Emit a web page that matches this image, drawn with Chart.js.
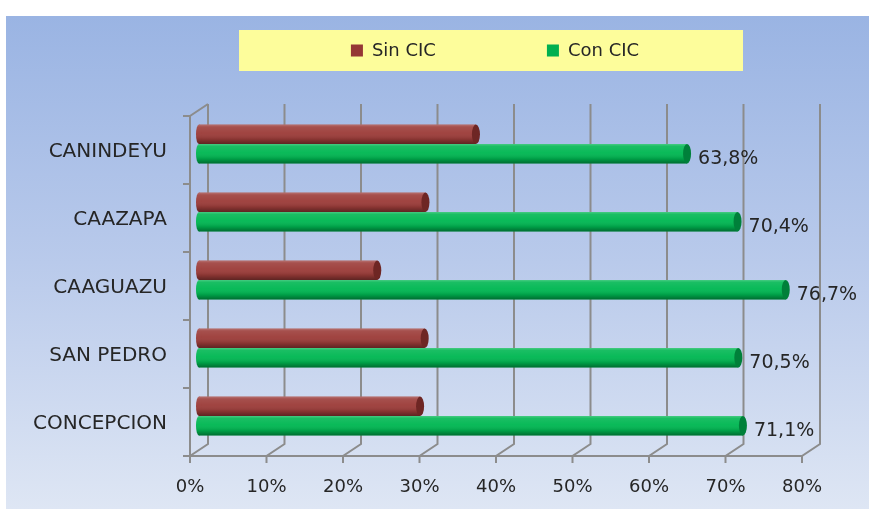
<!DOCTYPE html>
<html>
<head>
<meta charset="utf-8">
<script src="https://cdn.jsdelivr.net/npm/chart.js@4"></script>
<style>
  html, body { margin: 0; padding: 0; background: #fff; }
  #wrap { width: 869px; height: 509px; position: relative; }
</style>
</head>
<body>
<div id="wrap"><canvas id="chart"></canvas></div>
<script>
const departamentos = ['CANINDEYU', 'CAAZAPA', 'CAAGUAZU', 'SAN PEDRO', 'CONCEPCION'];
const sinCic = [36.2, 29.6, 23.3, 29.5, 28.9];
const conCic = [63.8, 70.4, 76.7, 70.5, 71.1];
const seriesNames = ['Sin CIC', 'Con CIC'];
const axisMax = 80;

const barColors = ['#9C3C39', '#00B752'];
const capColors = ['#6E2624', '#00803A'];
const legendColors = ['#953735', '#00B050'];
const FONT = 'DejaVu Sans';
const TEXT = '#262626';
// fake 3D depth of the walls
const DEPTH = 9, RISE = 6;

const backgroundPlugin = {
  id: 'bg',
  beforeDraw(chart) {
    const { ctx, width, height } = chart;
    ctx.save();
    ctx.fillStyle = '#fff';
    ctx.fillRect(0, 0, width, height);
    const g = ctx.createLinearGradient(0, 16, 0, height);
    g.addColorStop(0, '#9AB4E3');
    g.addColorStop(0.5, '#B9CAEB');
    g.addColorStop(1, '#DEE6F4');
    ctx.fillStyle = g;
    ctx.fillRect(6, 16, width - 6, height - 16);
    ctx.restore();
  }
};

const framePlugin = {
  id: 'frame',
  beforeDatasetsDraw(chart) {
    const { ctx, chartArea: a, scales: { x } } = chart;
    ctx.save();
    ctx.strokeStyle = '#8C8C8C';
    ctx.lineWidth = 2;
    x.ticks.forEach(t => {
      const px = x.getPixelForValue(t.value);
      ctx.beginPath();
      ctx.moveTo(px + DEPTH, a.top - RISE);
      ctx.lineTo(px + DEPTH, a.bottom - RISE);
      ctx.lineTo(px - DEPTH, a.bottom + RISE);
      ctx.lineTo(px - DEPTH, a.bottom + RISE + 7);
      ctx.stroke();
    });
    const x0 = x.getPixelForValue(0) - DEPTH;
    const x1 = x.getPixelForValue(axisMax) - DEPTH;
    ctx.beginPath();
    ctx.moveTo(x0, a.bottom + RISE);
    ctx.lineTo(x1, a.bottom + RISE);
    ctx.stroke();
    ctx.beginPath();
    ctx.moveTo(x0 + 2 * DEPTH, a.top - RISE);
    ctx.lineTo(x0, a.top + RISE);
    ctx.lineTo(x0, a.bottom + RISE);
    ctx.stroke();
    const step = (a.bottom - a.top) / departamentos.length;
    for (let i = 0; i <= departamentos.length; i++) {
      const py = a.top + i * step + RISE;
      ctx.beginPath();
      ctx.moveTo(x0 - 7, py);
      ctx.lineTo(x0, py);
      ctx.stroke();
    }
    ctx.restore();
  }
};

const cylinderPlugin = {
  id: 'cylinder',
  afterDatasetsDraw(chart) {
    const { ctx } = chart;
    ctx.save();
    chart.data.datasets.forEach((ds, di) => {
      chart.getDatasetMeta(di).data.forEach((bar, i) => {
        const { x, y, base, height } = bar.getProps(['x', 'y', 'base', 'height'], true);
        const top = y - height / 2, r = height / 2;
        // rounded start
        ctx.fillStyle = barColors[di];
        ctx.beginPath();
        ctx.ellipse(base, y, 3, r, 0, 0, Math.PI * 2);
        ctx.fill();
        // shading
        const g = ctx.createLinearGradient(0, top, 0, top + height);
        g.addColorStop(0, 'rgba(255,255,255,0.28)');
        g.addColorStop(0.12, 'rgba(255,255,255,0.10)');
        g.addColorStop(0.45, 'rgba(255,255,255,0.04)');
        g.addColorStop(0.75, 'rgba(0,0,0,0.12)');
        g.addColorStop(1, 'rgba(0,0,0,0.40)');
        ctx.fillStyle = g;
        ctx.beginPath();
        ctx.ellipse(base, y, 3, r, 0, Math.PI / 2, Math.PI * 1.5);
        ctx.lineTo(x, top);
        ctx.lineTo(x, top + height);
        ctx.closePath();
        ctx.fill();
        // end cap
        ctx.fillStyle = capColors[di];
        ctx.beginPath();
        ctx.ellipse(x, y, 4, r, 0, 0, Math.PI * 2);
        ctx.fill();
        // value labels on Con CIC
        if (di === 1) {
          ctx.fillStyle = TEXT;
          ctx.font = '19px "' + FONT + '"';
          ctx.textAlign = 'left';
          ctx.textBaseline = 'middle';
          ctx.fillText(ds.data[i].toFixed(1).replace('.', ',') + '%', x + 11, y + 5);
        }
      });
    });
    ctx.restore();
  }
};

const legendPlugin = {
  id: 'boxLegend',
  afterDraw(chart) {
    const { ctx } = chart;
    const box = { left: 239, top: 30, width: 504, height: 41 };
    ctx.save();
    ctx.fillStyle = '#FDFD9B';
    ctx.fillRect(box.left, box.top, box.width, box.height);
    ctx.font = '18px "' + FONT + '"';
    ctx.textBaseline = 'middle';
    ctx.textAlign = 'left';
    const sq = 12, gapText = 9, gapItems = 111;
    const widths = seriesNames.map(n => sq + gapText + ctx.measureText(n).width);
    const total = widths.reduce((s, w) => s + w, 0) + gapItems;
    let cx = box.left + (box.width - total) / 2 + 4;
    const cy = box.top + box.height / 2;
    seriesNames.forEach((n, i) => {
      ctx.fillStyle = legendColors[i];
      ctx.fillRect(cx, cy - sq / 2, sq, sq);
      ctx.fillStyle = TEXT;
      ctx.fillText(n, cx + sq + gapText, cy + 1);
      cx += widths[i] + gapItems;
    });
    ctx.restore();
  }
};

new Chart(document.getElementById('chart'), {
  type: 'bar',
  data: {
    labels: departamentos,
    datasets: [
      { label: seriesNames[0], data: sinCic, backgroundColor: barColors[0] },
      { label: seriesNames[1], data: conCic, backgroundColor: barColors[1] }
    ]
  },
  options: {
    indexAxis: 'y',
    responsive: true,
    maintainAspectRatio: false,
    animation: false,
    categoryPercentage: 0.57,
    barPercentage: 1,
    layout: { padding: { top: 110, right: 58, bottom: 0, left: 0 } },
    plugins: { legend: { display: false }, tooltip: { enabled: false } },
    scales: {
      x: {
        min: 0,
        max: axisMax,
        grid: { display: false, drawTicks: false },
        border: { display: false },
        afterFit(scale) { scale.height = 59; },
        ticks: {
          stepSize: 10,
          padding: 27,
          labelOffset: -DEPTH,
          color: TEXT,
          font: { family: FONT, size: 18 },
          callback: v => v + '%'
        }
      },
      y: {
        grid: { display: false, drawTicks: false },
        border: { display: false },
        afterFit(scale) { scale.width = 199; },
        ticks: {
          padding: 32,
          labelOffset: 8,
          color: TEXT,
          font: { family: FONT, size: 20 }
        }
      }
    }
  },
  plugins: [backgroundPlugin, framePlugin, cylinderPlugin, legendPlugin]
});
</script>
</body>
</html>
